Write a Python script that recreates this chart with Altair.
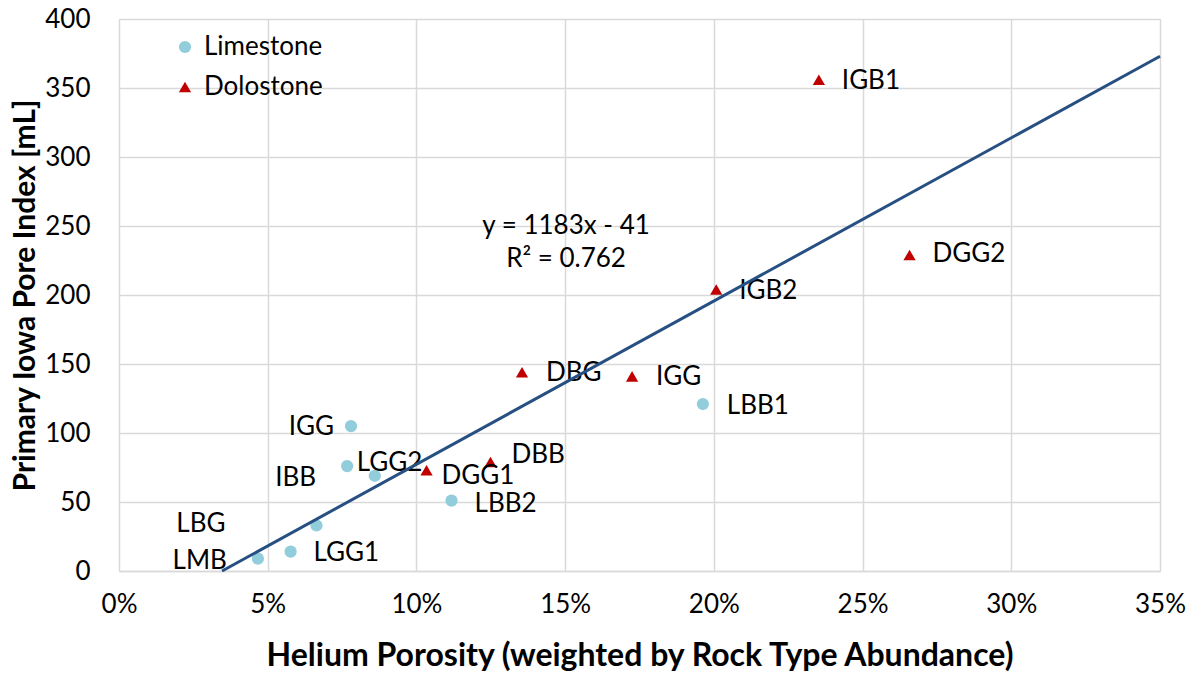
import altair as alt
import pandas as pd

# Limestone samples: helium porosity (fraction) and primary Iowa pore index (mL)
lime_names = ["LMB", "LGG1", "LBG", "IBB", "IGG", "LGG2", "LBB2", "LBB1"]
lime_porosity = [0.0467, 0.0577, 0.0664, 0.0767, 0.0780, 0.0860, 0.1118, 0.1963]
lime_index = [9, 14, 33, 76, 105, 69, 51, 121]

# Dolostone samples
dolo_names = ["DGG1", "DBB", "DBG", "IGG", "IGB2", "IGB1", "DGG2"]
dolo_porosity = [0.1034, 0.1249, 0.1355, 0.1725, 0.2008, 0.2353, 0.2658]
dolo_index = [73, 79, 144, 141, 204, 356, 229]

# Linear trendline reported on the chart
slope = 1183
intercept = -41
r_squared = 0.762

# Label nudges in pixels (dx, dy) and which side of the marker the text sits on
lime_label_nudge = [(-31, 2, "L"), (23, 1, "R"), (-91, -1, "L"), (-31, 12, "L"),
                    (-17, 1, "L"), (-18, -13, "R"), (23, 3, "R"), (24, 2, "R")]
dolo_label_nudge = [(15, 6, "R"), (21, -7, "R"), (24, 1, "R"), (24, 1, "R"),
                    (23, 2, "R"), (23, 1, "R"), (23, -1, "R")]

W, H = 1041, 552
X_MAX, Y_MAX = 0.35, 400
FONT = "Lato"
LABEL_SIZE = 26

rows = []
for rock, names, xs, ys, nudges in [
    ("Limestone", lime_names, lime_porosity, lime_index, lime_label_nudge),
    ("Dolostone", dolo_names, dolo_porosity, dolo_index, dolo_label_nudge),
]:
    for n, x, y, (dx, dy, side) in zip(names, xs, ys, nudges):
        rows.append({"rock": rock, "name": n, "porosity": x, "index": y,
                     "dx": dx, "dy": dy, "side": side})
df = pd.DataFrame(rows)

x_start = -intercept / slope
trend = pd.DataFrame({"porosity": [x_start, X_MAX]})
trend["index"] = slope * trend["porosity"] + intercept

x_scale = alt.Scale(domain=[0, X_MAX], nice=False, zero=True)
y_scale = alt.Scale(domain=[0, Y_MAX], nice=False)

x_axis = alt.Axis(
    format=".0%", values=[0, 0.05, 0.10, 0.15, 0.20, 0.25, 0.30, 0.35],
    title="Helium Porosity (weighted by Rock Type Abundance)",
    grid=True, gridColor="#d9d9d9", gridWidth=1.5,
    domain=True, domainColor="#d9d9d9", domainWidth=1.5, ticks=False,
    labelFont=FONT, labelFontSize=26, labelColor="#000000", labelPadding=20,
    labelFlush=False,
    titleFont=FONT, titleFontSize=32, titleFontWeight="bold", titleColor="#000000",
    titlePadding=23,
)
y_axis = alt.Axis(
    values=list(range(0, 401, 50)),
    title="Primary Iowa Pore Index [mL]",
    grid=True, gridColor="#d9d9d9", gridWidth=1.5,
    domain=False, ticks=False,
    labelFont=FONT, labelFontSize=26, labelColor="#000000", labelPadding=29,
    labelFlush=False,
    titleFont=FONT, titleFontSize=30, titleFontWeight="bold", titleColor="#000000",
    titlePadding=4,
)

rock_domain = ["Limestone", "Dolostone"]
legend = alt.Legend(
    title=None, orient="none", legendX=53, legendY=15,
    labelFont=FONT, labelFontSize=LABEL_SIZE, labelColor="#000000",
    labelOffset=6, rowPadding=14, symbolSize=150, padding=0,
)

base = alt.Chart(df)

points = base.mark_point(filled=True, size=150, opacity=1).encode(
    x=alt.X("porosity:Q", scale=x_scale, axis=x_axis),
    y=alt.Y("index:Q", scale=y_scale, axis=y_axis),
    color=alt.Color("rock:N", scale=alt.Scale(domain=rock_domain, range=["#92CDDC", "#C00000"]),
                    legend=legend),
    shape=alt.Shape("rock:N", scale=alt.Scale(domain=rock_domain, range=["circle", "triangle-up"]),
                    legend=legend),
)

labelled = base.transform_calculate(
    lx=f"datum.porosity + datum.dx * {X_MAX} / {W}",
    ly=f"datum.index - datum.dy * {Y_MAX} / {H}",
)
label_right = labelled.transform_filter("datum.side == 'R'").mark_text(
    align="left", baseline="middle", font=FONT, fontSize=LABEL_SIZE, color="#000000"
).encode(x=alt.X("lx:Q", scale=x_scale), y=alt.Y("ly:Q", scale=y_scale), text="name:N")
label_left = labelled.transform_filter("datum.side == 'L'").mark_text(
    align="right", baseline="middle", font=FONT, fontSize=LABEL_SIZE, color="#000000"
).encode(x=alt.X("lx:Q", scale=x_scale), y=alt.Y("ly:Q", scale=y_scale), text="name:N")

trend_line = alt.Chart(trend).mark_line(color="#264F82", strokeWidth=3).encode(
    x=alt.X("porosity:Q", scale=x_scale),
    y=alt.Y("index:Q", scale=y_scale),
)

eq_text = f"y = {slope}x - {abs(intercept)}\nR² = {r_squared}"
equation = alt.Chart(pd.DataFrame({"t": [eq_text]})).mark_text(
    align="center", baseline="middle", lineBreak="\n", lineHeight=33,
    font=FONT, fontSize=LABEL_SIZE, color="#000000",
).encode(x=alt.datum(0.1503, scale=x_scale), y=alt.datum(250, scale=y_scale), text="t:N")

chart = alt.layer(points, label_right, label_left, trend_line, equation).properties(
    width=W, height=H,
    autosize=alt.AutoSizeParams(type="none"),
    padding={"left": 119, "top": 19, "right": 33, "bottom": 102},
    background="#ffffff",
).configure_view(stroke=None)

chart.save("out.html", embed_options={"renderer": "svg", "actions": False})
